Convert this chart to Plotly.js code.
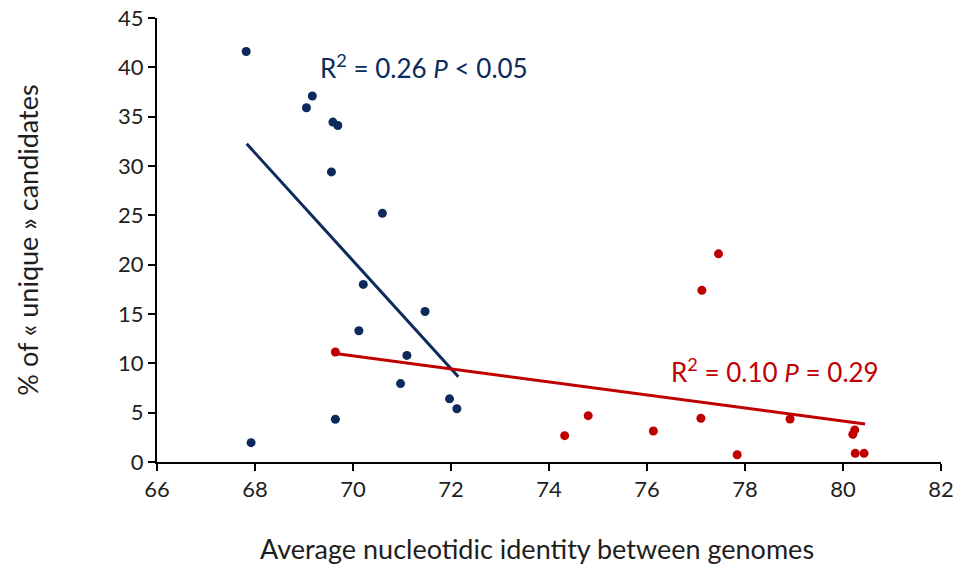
<!DOCTYPE html>
<html>
<head>
<meta charset="utf-8">
<script src="https://cdn.plot.ly/plotly-3.0.1.min.js"></script>
<style>html,body{margin:0;padding:0;background:#fff;}#chart{width:956px;height:565px;}</style>
</head>
<body>
<div id="chart"></div>
<script>
// Blue group (lower identity)
const blueX = [67.82, 69.17, 69.05, 69.59, 69.69, 69.56, 70.60, 70.21, 71.47, 70.12, 71.10, 70.97, 71.97, 72.12, 69.64, 67.92];
const blueY = [41.6, 37.1, 35.9, 34.45, 34.1, 29.4, 25.2, 18.0, 15.25, 13.3, 10.8, 7.95, 6.4, 5.4, 4.33, 1.96];
// Red group (higher identity)
const redX = [69.64, 77.46, 77.12, 74.80, 74.32, 76.13, 77.10, 77.84, 78.92, 80.24, 80.20, 80.25, 80.43];
const redY = [11.15, 21.1, 17.4, 4.7, 2.67, 3.14, 4.43, 0.74, 4.36, 3.25, 2.8, 0.88, 0.88];
// Trend line endpoints
const blueTrendX = [67.83, 72.15];
const blueTrendY = [32.25, 8.65];
const redTrendX = [69.64, 80.45];
const redTrendY = [11.0, 3.85];
const xTicks = [66, 68, 70, 72, 74, 76, 78, 80, 82];
const yTicks = [0, 5, 10, 15, 20, 25, 30, 35, 40, 45];

const BLUE = '#0c2a5b';
const RED = '#c00000';
const FONT = 'Lato, "Open Sans", sans-serif';
const TXT = '#1e1e1e';

const data = [
  {x: blueTrendX, y: blueTrendY, mode: 'lines', line: {color: BLUE, width: 3}, hoverinfo: 'skip'},
  {x: redTrendX, y: redTrendY, mode: 'lines', line: {color: RED, width: 3}, hoverinfo: 'skip'},
  {x: blueX, y: blueY, mode: 'markers', marker: {color: BLUE, size: 9}},
  {x: redX, y: redY, mode: 'markers', marker: {color: RED, size: 9}}
];

const layout = {
  width: 956, height: 565,
  margin: {l: 157, r: 15, t: 18, b: 103},
  paper_bgcolor: '#fff', plot_bgcolor: '#fff',
  showlegend: false,
  font: {family: FONT, color: TXT},
  xaxis: {
    range: [66, 82], tickvals: xTicks, ticktext: xTicks.map(String),
    showgrid: false, zeroline: false,
    showline: true, linecolor: '#000', linewidth: 2,
    ticks: 'outside', ticklen: 7, tickwidth: 2, tickcolor: '#000',
    tickfont: {size: 22, family: FONT, color: TXT}
  },
  yaxis: {
    range: [0, 45], tickvals: yTicks, ticktext: yTicks.map(String),
    showgrid: false, zeroline: false,
    showline: true, linecolor: '#000', linewidth: 2,
    ticks: 'outside', ticklen: 7, tickwidth: 2, tickcolor: '#000',
    tickfont: {size: 22, family: FONT, color: TXT},
    title: {text: '% of « unique » candidates', font: {size: 27, family: FONT, color: TXT}, standoff: 72}
  },
  annotations: [
    {x: 0, y: 0, xref: 'paper', yref: 'paper', xanchor: 'center', yanchor: 'middle',
     text: 'Average nucleotidic identity between genomes', showarrow: false,
     font: {size: 27, family: FONT, color: TXT}},
    {x: 71.45, y: 40.06, xref: 'x', yref: 'y', text: 'R<sup>2</sup> = 0.26 <i>P</i> < 0.05', showarrow: false,
     font: {size: 26, family: FONT, color: BLUE}},
    {x: 78.61, y: 9.23, xref: 'x', yref: 'y', text: 'R<sup>2</sup> = 0.10 <i>P</i> = 0.29', showarrow: false,
     font: {size: 26, family: FONT, color: RED}}
  ]
};
// convert the x-title pixel position to paper coordinates
const pw = 956 - 157 - 15, ph = 565 - 18 - 103;
layout.annotations[0].x = (537 - 157) / pw;
layout.annotations[0].y = (565 - 103 - 548) / ph;

Plotly.newPlot('chart', data, layout, {displayModeBar: false, staticPlot: true});
</script>
</body>
</html>
